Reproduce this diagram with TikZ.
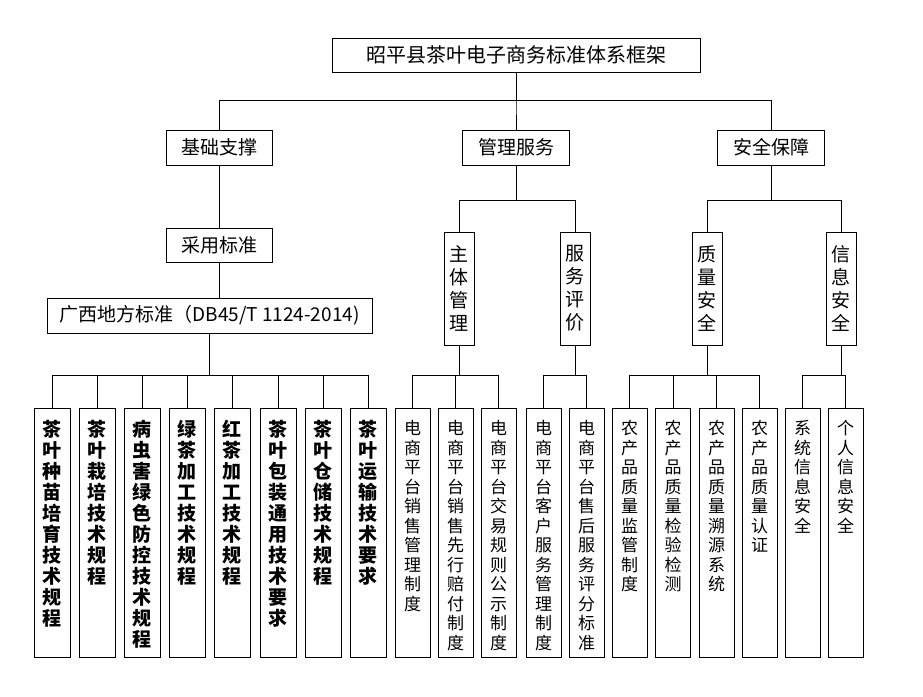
\documentclass[tikz,border=0pt]{standalone}
\usepackage{fontspec}
\setmainfont{Noto Sans CJK SC}
\begin{document}
\begin{tikzpicture}[x=1pt,y=-1pt,line width=1pt,
  hbox/.style={draw,inner sep=0pt,font=\fontsize{19}{19}\selectfont},
  vbox/.style={draw,inner sep=0pt,minimum width=30,align=center,font=\fontsize{19}{23}\selectfont},
  leaf/.style={draw,anchor=north,minimum width=36,minimum height=249,inner sep=0pt},
  ltxt/.style={anchor=north,align=center,inner sep=0pt}]
\useasboundingbox (0,0) rectangle (923,696);
\node[hbox,minimum width=368,minimum height=34,font=\fontsize{20}{20}\selectfont] (t) at (516,55) {昭平县茶叶电子商务标准体系框架} ;
\node[hbox,minimum width=106,minimum height=35] (a) at (219,147.5) {基础支撑} ;
\node[hbox,minimum width=107,minimum height=35] (b) at (516,147.5) {管理服务} ;
\node[hbox,minimum width=107,minimum height=35] (c) at (771,147.5) {安全保障} ;
\node[hbox,minimum width=106,minimum height=34] (a1) at (219,245) {采用标准} ;
\node[hbox,minimum width=325,minimum height=35] (a2) at (209.5,315.5) {广西地方标准（DB45/T 1124-2014)} ;
\node[vbox,minimum height=113] (b1) at (459,288.5) {主\\体\\管\\理} ;
\node[vbox,minimum height=113] (b2) at (575,288.5) {服\\务\\评\\价} ;
\node[vbox,minimum height=113] (c1) at (707,288.5) {质\\量\\安\\全} ;
\node[vbox,minimum height=113] (c2) at (841,288.5) {信\\息\\安\\全} ;
% leaves
\foreach \n/\x/\s in {l1/52/茶\\叶\\种\\苗\\培\\育\\技\\术\\规\\程, l2/97/茶\\叶\\栽\\培\\技\\术\\规\\程,
  l3/142/病\\虫\\害\\绿\\色\\防\\控\\技\\术\\规\\程, l4/187/绿\\茶\\加\\工\\技\\术\\规\\程,
  l5/232/红\\茶\\加\\工\\技\\术\\规\\程, l6/278/茶\\叶\\包\\装\\通\\用\\技\\术\\要\\求,
  l7/323/茶\\叶\\仓\\储\\技\\术\\规\\程, l8/368/茶\\叶\\运\\输\\技\\术\\要\\求}
{
  \node[leaf] (\n) at (\x,408) {} ;
  \node[ltxt,font=\bfseries\fontsize{19}{21}\selectfont] at ([yshift=-12]\n.north) {\s} ;
}
\foreach \n/\x/\s in {m1/412.5/电\\商\\平\\台\\销\\售\\管\\理\\制\\度, m2/455.5/电\\商\\平\\台\\销\\售\\先\\行\\赔\\付\\制\\度,
  m3/498.5/电\\商\\平\\台\\交\\易\\规\\则\\公\\示\\制\\度, m4/543.5/电\\商\\平\\台\\客\\户\\服\\务\\管\\理\\制\\度,
  m5/586.5/电\\商\\平\\台\\售\\后\\服\\务\\评\\分\\标\\准, n1/629.5/农\\产\\品\\质\\量\\监\\管\\制\\度,
  n2/673/农\\产\\品\\质\\量\\检\\验\\检\\测, n3/716.5/农\\产\\品\\质\\量\\溯\\源\\系\\统,
  n4/759.5/农\\产\\品\\质\\量\\认\\证, p1/802.5/系\\统\\信\\息\\安\\全, p2/845.5/个\\人\\信\\息\\安\\全}
{
  \node[leaf,minimum width=35] (\n) at (\x,408) {} ;
  \node[ltxt,font=\fontsize{17}{19.5}\selectfont] at ([yshift=-12]\n.north) {\s} ;
}
% connectors
\foreach \k in {a,b,c} \draw (t.south) -- ++(0,28) -| (\k.north) ;
\draw (a.south) -- (a1.north) ;
\draw (a1.south) -- (a1.south |- a2.north) ;
\foreach \k in {b1,b2} \draw (b.south) -- ++(0,35) -| (\k.north) ;
\foreach \k in {c1,c2} \draw (c.south) -- ++(0,35) -| (\k.north) ;
\foreach \k in {l1,l2,l3,l4,l5,l6,l7,l8} \draw (a2.south) -- ++(0,42) -| (\k.north) ;
\foreach \k in {m1,m2,m3} \draw (b1.south) -- ++(0,30) -| (\k.north) ;
\foreach \k in {m4,m5} \draw (b2.south) -- ++(0,30) -| (\k.north) ;
\foreach \k in {n1,n2,n3,n4} \draw (c1.south) -- ++(0,30) -| (\k.north) ;
\foreach \k in {p1,p2} \draw (c2.south) -- ++(0,30) -| (\k.north) ;
\end{tikzpicture}
\end{document}
